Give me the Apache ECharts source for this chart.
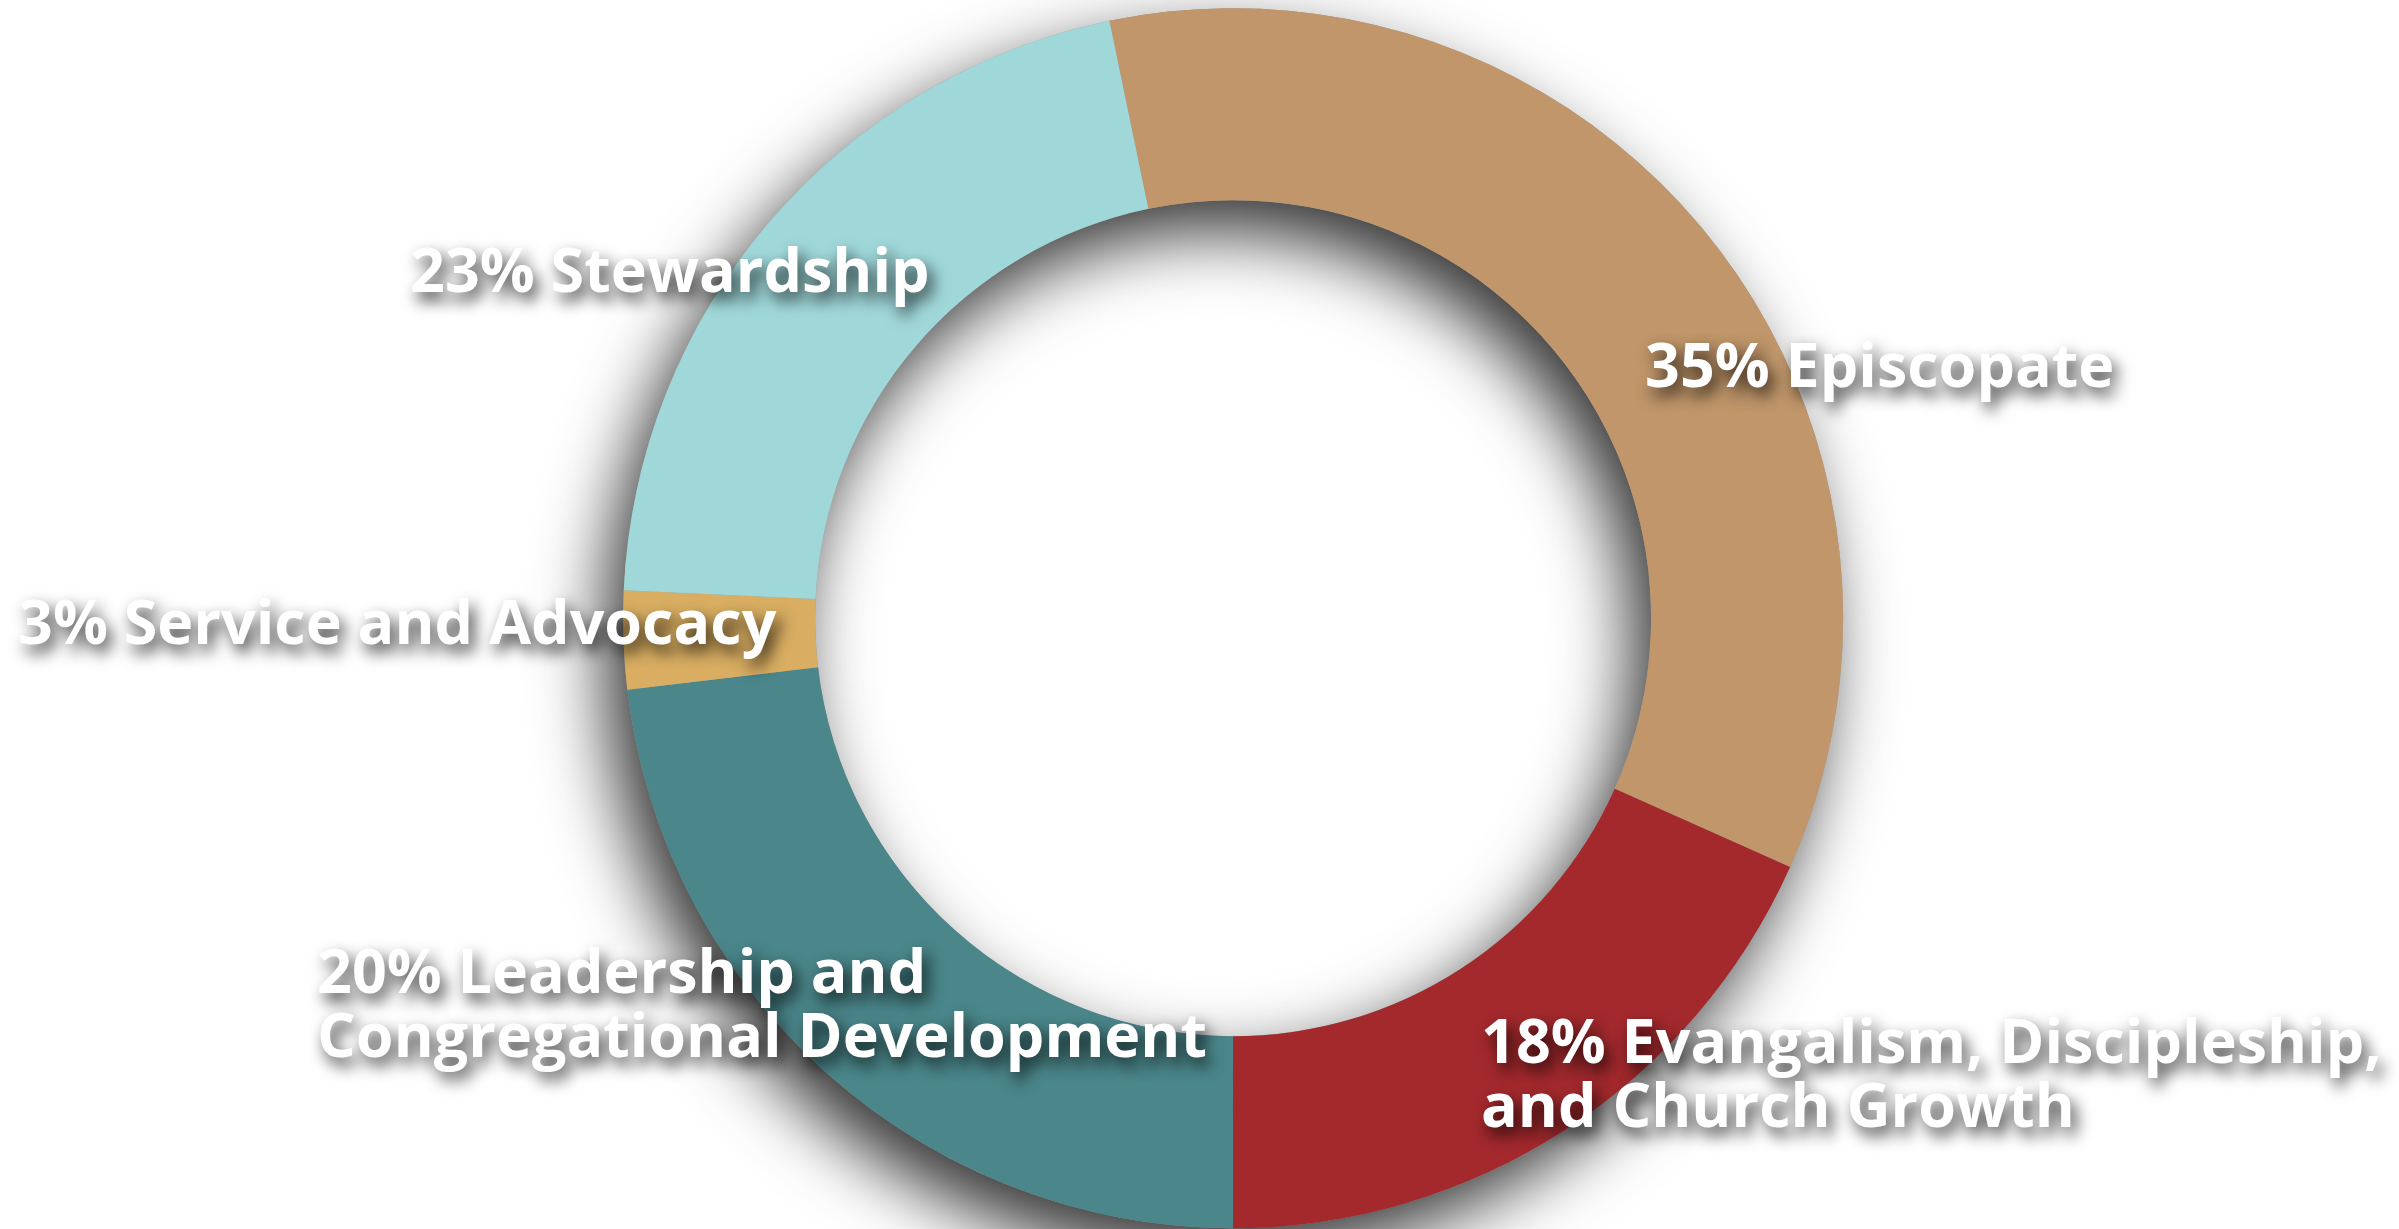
<!DOCTYPE html>
<html>
<head>
<meta charset="utf-8">
<script src="https://cdn.jsdelivr.net/npm/echarts@6/dist/echarts.min.js"></script>
<style>
html,body{margin:0;padding:0;background:#fff;}
#chart{width:2399px;height:1229px;}
</style>
</head>
<body>
<div id="chart"></div>
<script>
// Data (clockwise from the top-left boundary)
const categories = [
  'Episcopate',
  'Evangalism, Discipleship,\nand Church Growth',
  'Leadership and\nCongregational Development',
  'Service and Advocacy',
  'Stewardship'
];
// slice sizes as read from the drawn ring
const sliceValues = [34.9, 18.3, 23.1, 2.6, 21.0];
// percentages printed in the labels
const labelPercents = [35, 18, 20, 3, 23];
const colors = ['#C0966A', '#A3292D', '#4A868A', '#D9AE62', '#A0D8DA'];

// label placement (left edge x, vertical middle y), in pixels of the 2399x1229 canvas
const labelPlacement = [
  [1645, 370],
  [1481, 1078],
  [317, 1008],
  [18, 627],
  [410, 275]
];

const chart = echarts.init(document.getElementById('chart'), null, {renderer: 'canvas'});
const center = ['51.4%', '50.3%'];
const radius = [418, 610];

chart.setOption({
  animation: false,
  backgroundColor: '#ffffff',
  series: [
    {
      type: 'pie',
      silent: true,
      center: center,
      radius: radius,
      startAngle: 101.7,
      label: {show: false},
      labelLine: {show: false},
      itemStyle: {
        color: '#999999',
        shadowBlur: 70,
        shadowColor: 'rgba(0,0,0,0.8)',
        shadowOffsetX: -18,
        shadowOffsetY: 30
      },
      data: [{value: 1, name: 'shadow'}],
      z: 1
    },
    {
      type: 'pie',
      silent: true,
      center: center,
      radius: radius,
      startAngle: 101.7,
      clockwise: true,
      avoidLabelOverlap: false,
      itemStyle: {borderWidth: 0},
      label: {
        show: true,
        position: 'inside',
        color: '#ffffff',
        fontFamily: 'Open Sans',
        fontWeight: 700,
        fontSize: 61,
        lineHeight: 64,
        align: 'left',
        textShadowColor: 'rgba(0,0,0,0.8)',
        textShadowBlur: 16,
        textShadowOffsetX: 5,
        textShadowOffsetY: 8,
        formatter: function (p) {
          return labelPercents[p.dataIndex] + '% ' + categories[p.dataIndex];
        }
      },
      labelLine: {show: false},
      labelLayout: function (p) {
        const pos = labelPlacement[p.dataIndex];
        return {x: pos[0], y: pos[1], align: 'left', verticalAlign: 'middle'};
      },
      data: categories.map(function (c, i) {
        return {value: sliceValues[i], name: c, itemStyle: {color: colors[i]}};
      }),
      z: 2
    }
  ]
});
</script>
</body>
</html>
